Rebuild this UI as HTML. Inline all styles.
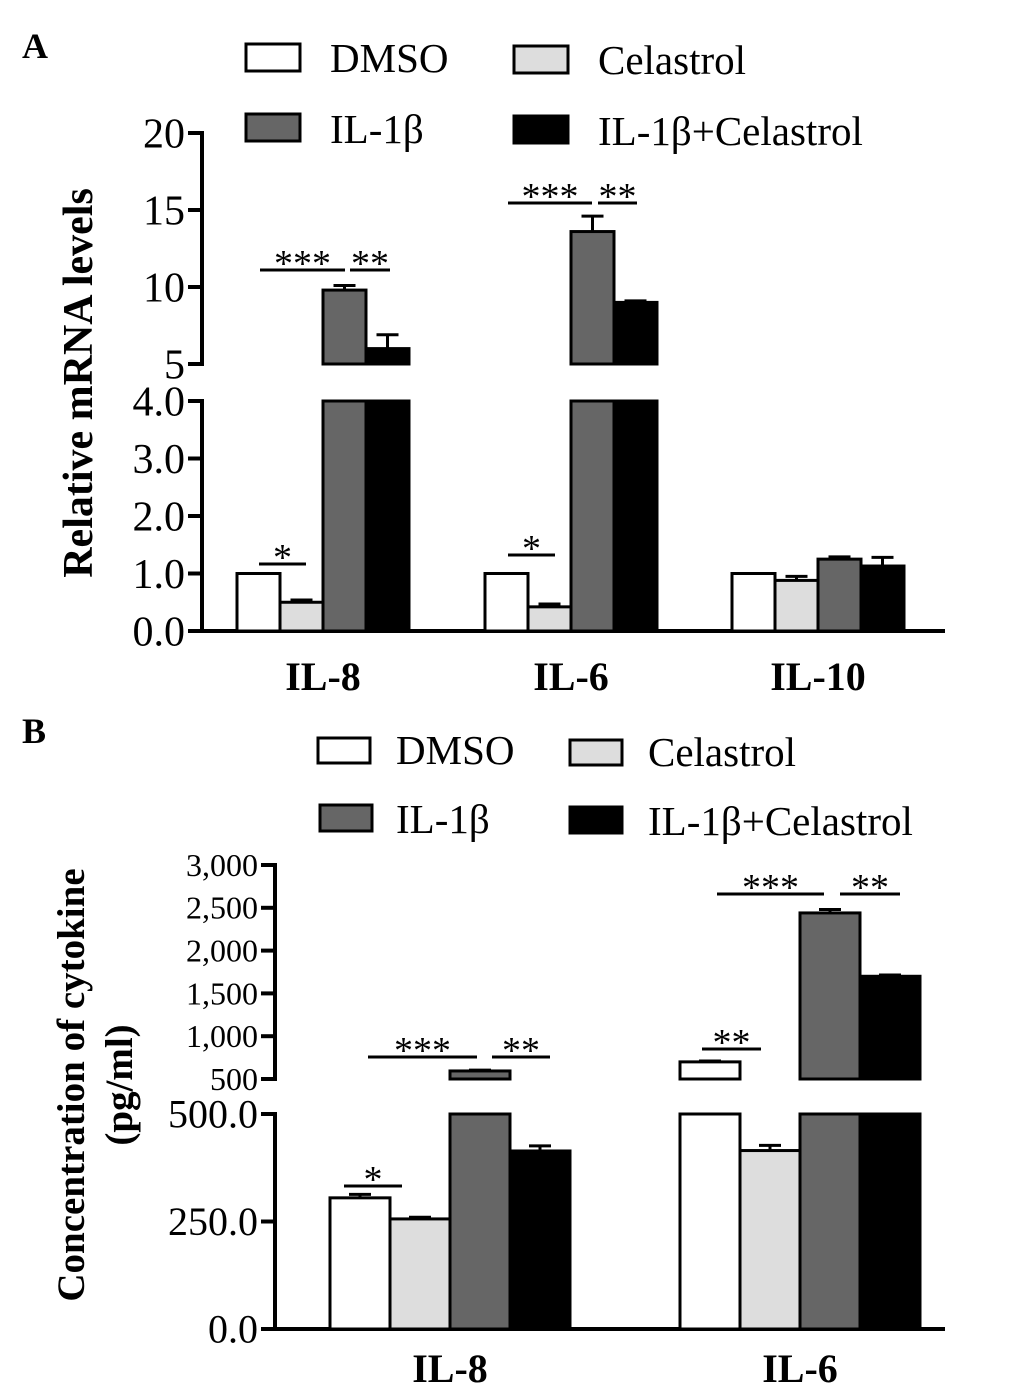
<!DOCTYPE html>
<html><head><meta charset="utf-8"><style>
html,body{margin:0;padding:0;background:#fff;}
svg{display:block;font-family:"Liberation Serif",serif;}
</style></head><body>
<svg id="chart" width="1033" height="1395" viewBox="0 0 1033 1395" xmlns="http://www.w3.org/2000/svg">
<text x="22" y="58" font-size="36" font-weight="bold">A</text>
<text x="22" y="743" font-size="36" font-weight="bold">B</text>
<g>
 <rect x="246" y="44" width="54" height="27" fill="#fff" stroke="#000" stroke-width="3"/>
 <text x="330" y="72" font-size="41">DMSO</text>
 <rect x="514" y="46" width="54" height="27" fill="#ddd" stroke="#000" stroke-width="3"/>
 <text x="598" y="74" font-size="41">Celastrol</text>
 <rect x="246" y="114" width="54" height="27" fill="#666" stroke="#000" stroke-width="3"/>
 <text x="330" y="143" font-size="41">IL-1β</text>
 <rect x="514" y="116" width="54" height="27" fill="#000" stroke="#000" stroke-width="3"/>
 <text x="598" y="145" font-size="41">IL-1β+Celastrol</text>
</g>
<g>
 <rect x="318" y="738" width="52" height="25" fill="#fff" stroke="#000" stroke-width="3"/>
 <text x="396" y="764" font-size="41">DMSO</text>
 <rect x="570" y="740" width="52" height="25" fill="#ddd" stroke="#000" stroke-width="3"/>
 <text x="648" y="766" font-size="41">Celastrol</text>
 <rect x="320" y="805" width="52" height="26" fill="#666" stroke="#000" stroke-width="3"/>
 <text x="396" y="833" font-size="41">IL-1β</text>
 <rect x="570" y="807" width="52" height="26" fill="#000" stroke="#000" stroke-width="3"/>
 <text x="648" y="835" font-size="41">IL-1β+Celastrol</text>
</g>
<text transform="translate(92,383) rotate(-90)" text-anchor="middle" font-size="42" font-weight="bold">Relative mRNA levels</text>
<text transform="translate(84,1085) rotate(-90)" text-anchor="middle" font-size="39" font-weight="bold">Concentration of cytokine</text>
<text transform="translate(132,1085) rotate(-90)" text-anchor="middle" font-size="39" font-weight="bold">(pg/ml)</text>
</svg>
<script>
const catsA = ["IL-8","IL-6","IL-10"];
const dmsoA = [1.0,1.0,1.0];
const celA = [0.5,0.42,0.88];
const il1bA = [9.8,13.6,1.25];
const comboA = [6.0,9.0,1.13];
const errDmsoA = [0,0,0];
const errCelA = [0.04,0.05,0.07];
const errIl1bA = [0.3,1.0,0.04];
const errComboA = [0.9,0.1,0.15];
const lowTicksA = ["0.0","1.0","2.0","3.0","4.0"];
const highTicksA = ["5","10","15","20"];

const catsB = ["IL-8","IL-6"];
const dmsoB = [305,700];
const celB = [256,415];
const il1bB = [594,2440];
const comboB = [414,1700];
const errDmsoB = [8,10];
const errCelB = [4,12];
const errIl1bB = [10,40];
const errComboB = [12,15];
const lowTicksB = ["0.0","250.0","500.0"];
const highTicksB = ["500","1,000","1,500","2,000","2,500","3,000"];

const svg = document.getElementById('chart');
const NS = "http://www.w3.org/2000/svg";
function mk(tag, attrs){const e=document.createElementNS(NS,tag);for(const k in attrs)e.setAttribute(k,attrs[k]);svg.appendChild(e);return e;}
const fills = ["#fff","#ddd","#666","#000"];
const names = ["dmso","celastrol","il1b","combo"];

function drawPanel(cfg){
  const {ax, base, lowScale, lowMax, hiBase, hiMin, hiScale, hiMax, groupX, barW, cats, series, errs, lowTicks, highTicks, lowFont, hiFont, xEnd, labelY, labelFont, p} = cfg;
  const yLow = v => base - v*lowScale;
  const yHi = v => hiBase - (v-hiMin)*hiScale;
  let e = mk('line',{x1:ax,y1:yLow(lowMax)-2,x2:ax,y2:base+2,stroke:'#000','stroke-width':4});
  
  
  e = mk('line',{x1:ax,y1:yHi(hiMax)-2,x2:ax,y2:hiBase+2,stroke:'#000','stroke-width':4});
  
  
  e = mk('line',{x1:ax-14,y1:base,x2:xEnd,y2:base,stroke:'#000','stroke-width':4});
  
  
  lowTicks.forEach(t=>{
    const v = parseFloat(t.replace(/,/g,'')); const y=yLow(v);
    let l=mk('line',{x1:ax-14,y1:y,x2:ax,y2:y,stroke:'#000','stroke-width':4});
    
    
    let tx=mk('text',{x:ax-17,y:y+lowFont*0.34,'text-anchor':'end','font-size':lowFont});
    tx.textContent=t;
    
    
  });
  highTicks.forEach(t=>{
    const v = parseFloat(t.replace(/,/g,'')); const y=yHi(v);
    let l=mk('line',{x1:ax-14,y1:y,x2:ax,y2:y,stroke:'#000','stroke-width':4});
    
    
    let tx=mk('text',{x:ax-17,y:y+hiFont*0.34,'text-anchor':'end','font-size':hiFont});
    tx.textContent=t;
    
    
  });
  cats.forEach((c,i)=>{
    const gx = groupX[i];
    series.forEach((s,j)=>{
      const v=s[i], x=gx+j*barW, er=errs[j][i];
      let topY;
      if(v<=lowMax){
        topY=yLow(v);
        let r=mk('rect',{x:x,y:topY,width:barW,height:base-topY,fill:fills[j],stroke:'#000','stroke-width':3});
        
        
      } else {
        let r=mk('rect',{x:x,y:yLow(lowMax),width:barW,height:base-yLow(lowMax),fill:fills[j],stroke:'#000','stroke-width':3});
        
        
        topY=yHi(v);
        let r2=mk('rect',{x:x,y:topY,width:barW,height:hiBase-topY,fill:fills[j],stroke:'#000','stroke-width':3});
        
        
      }
      if(er>0){
        const ey = v<=lowMax ? yLow(v+er) : yHi(v+er);
        const cx=x+barW/2;
        let l=mk('path',{d:`M${cx} ${topY} V${ey} M${cx-11} ${ey} H${cx+11}`,stroke:'#000','stroke-width':3,fill:'none'});
        
        
      }
    });
    let t=mk('text',{x:gx+barW*2,y:labelY,'text-anchor':'middle','font-size':labelFont,'font-weight':'bold'});
    t.textContent=c;
    
    
  });
}
drawPanel({p:'a',ax:202,base:631,lowScale:57.5,lowMax:4,hiBase:364,hiMin:5,hiScale:15.4,hiMax:20,groupX:[237,485,732],barW:43,cats:catsA,
  series:[dmsoA,celA,il1bA,comboA],errs:[errDmsoA,errCelA,errIl1bA,errComboA],lowTicks:lowTicksA,highTicks:highTicksA,lowFont:42,hiFont:42,xEnd:945,labelY:690,labelFont:40});
drawPanel({p:'b',ax:275,base:1329,lowScale:0.43,lowMax:500,hiBase:1079,hiMin:500,hiScale:0.0856,hiMax:3000,groupX:[330,680],barW:60,cats:catsB,
  series:[dmsoB,celB,il1bB,comboB],errs:[errDmsoB,errCelB,errIl1bB,errComboB],lowTicks:lowTicksB,highTicks:highTicksB,lowFont:40,hiFont:32,xEnd:945,labelY:1382,labelFont:40});

const sigLines = [
 [260,345,270,"***"],[350,390,270,"**"],[259,306,564,"*"],
 [508,592,203,"***"],[598,637,203,"**"],[508,555,555,"*"],
 [344,402,1186,"*"],[368,477,1057,"***"],[492,550,1057,"**"],
 [702,761,1049,"**"],[717,824,894,"***"],[840,900,894,"**"]
];
sigLines.forEach(s=>{
  let l=mk('line',{x1:s[0],y1:s[2],x2:s[1],y2:s[2],stroke:'#000','stroke-width':3});
  
  
  let t=mk('text',{x:(s[0]+s[1])/2,y:s[2]+6,'text-anchor':'middle','font-size':38});
  t.textContent=s[3];
  
  
});
</script>
</body></html>
